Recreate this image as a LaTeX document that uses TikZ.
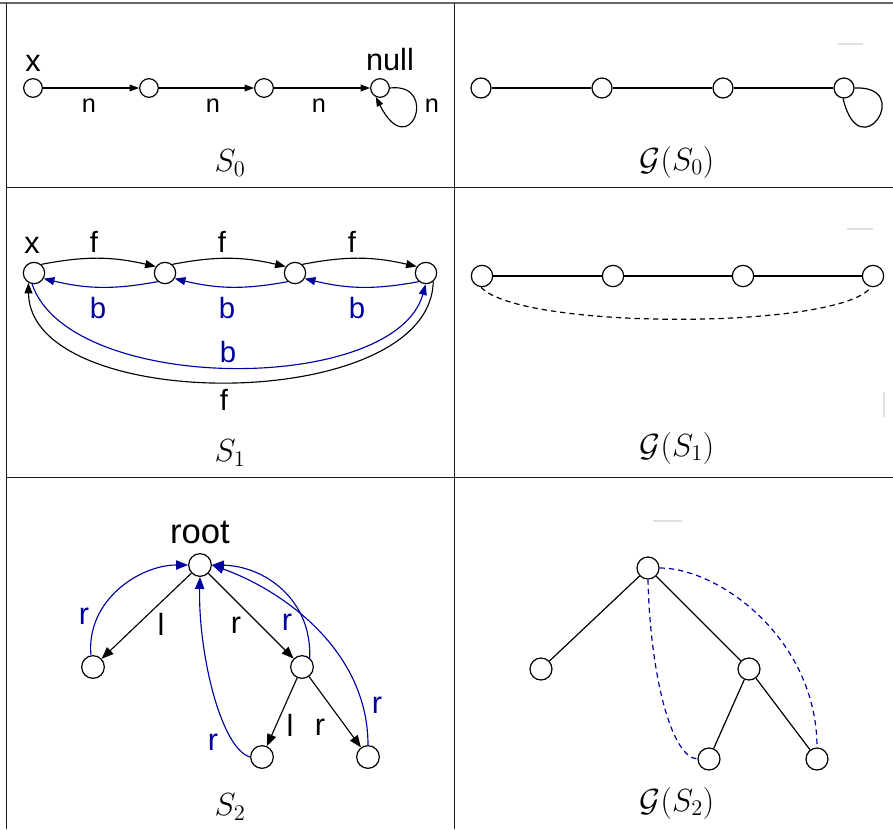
\documentclass[tikz,border=0pt]{standalone}
\usepackage{fix-cm}
\usepackage{fontspec}
\newfontfamily\arial{Liberation Sans}
\usetikzlibrary{arrows.meta}
\definecolor{navy}{RGB}{0,0,160}
\begin{document}
\begin{tikzpicture}[x=0.75pt,y=0.75pt,
  tbl/.style={line width=1.1pt,black!90},
  tbltop/.style={line width=1.5pt,black!60},
  faint/.style={line width=1.2pt,black!12},
  vA/.style={circle,draw,line width=0.9pt,minimum size=14pt,inner sep=0pt},
  vB/.style={circle,draw,line width=0.9pt,minimum size=15pt,inner sep=0pt},
  vC/.style={circle,draw,line width=0.9pt,minimum size=16pt,inner sep=0pt},
  vD/.style={circle,draw,line width=0.9pt,minimum size=17pt,inner sep=0pt},
  vE/.style={circle,draw,line width=0.9pt,minimum size=16.5pt,inner sep=0pt},
  ed/.style={line width=0.9pt},
  arrA/.style={line width=0.85pt,-{Triangle[length=7pt,width=5pt]}},
  arrB/.style={line width=0.85pt,-{Triangle[length=8pt,width=6pt]}},
  arrC/.style={line width=0.85pt,-{Triangle[length=9pt,width=7pt]}},
  lx/.style={inner sep=0pt,font=\arial\fontsize{23}{27}\selectfont},
  ln/.style={inner sep=0pt,font=\arial\fontsize{19}{22}\selectfont},
  lf/.style={inner sep=0pt,font=\arial\fontsize{22}{26}\selectfont},
  lr/.style={inner sep=0pt,font=\arial\fontsize{23}{27}\selectfont},
  lroot/.style={inner sep=0pt,font=\arial\fontsize{26}{30}\selectfont},
  captxt/.style={inner sep=0pt,font=\fontsize{24}{28}\selectfont}
]
\useasboundingbox (0,0) rectangle (893,-829);
% table
\draw[tbltop] (0,-3) -- (893,-3);
\draw[tbl] (6.7,-3) -- (6.7,-829);
\draw[tbl] (454.5,-3) -- (454.5,-829);
\draw[tbl] (6.7,-187.5) -- (893,-187.5);
\draw[tbl] (6.7,-477.5) -- (893,-477.5);
% faint marks
\draw[faint] (838,-44) -- (863,-44);
\draw[faint] (847,-229) -- (873,-229);
\draw[faint] (884,-392) -- (884,-417);
\draw[faint] (653,-521) -- (682,-521);

% ---------- S0 ----------
\node[vA] (a0) at (33,-88) {};
\node[vA] (b0) at (149,-88) {};
\node[vA] (c0) at (264,-88) {};
\node[vA] (d0) at (380,-88) {};
\node[lx] (x0) at (33,-63) {x};
\node[lx] (null0) at (390,-60) {null};
\draw[arrA] (a0) -- (b0);
\draw[arrA] (b0) -- (c0);
\draw[arrA] (c0) -- (d0);
\draw[arrA] (d0.east) .. controls (440,-82) and (410,-165) .. (d0.-115);
\node[ln] (n01) at (89,-106) {n};
\node[ln] (n02) at (213,-106) {n};
\node[ln] (n03) at (319,-106) {n};
\node[ln] (n04) at (432,-106) {n};
\node[captxt] (cS0) at (230,-163) {$S_0$};

% ---------- G(S0) ----------
\node[vB] (ga0) at (481,-88) {};
\node[vB] (gb0) at (602,-88) {};
\node[vB] (gc0) at (723,-88) {};
\node[vB] (gd0) at (844,-88) {};
\draw[ed] (ga0) -- (gb0);
\draw[ed] (gb0) -- (gc0);
\draw[ed] (gc0) -- (gd0);
\draw[ed] (gd0.east) .. controls (915,-85) and (860,-170) .. (gd0.-95);
\node[captxt] (cG0) at (677,-162) {$\mathcal{G}(S_0)$};

% ---------- S1 ----------
\node[vC] (a1) at (34,-273) {};
\node[vC] (b1) at (165,-273) {};
\node[vC] (c1) at (295,-273) {};
\node[vC] (d1) at (426,-273) {};
\node[lx] (x1) at (32,-245) {x};
\draw[arrB] (a1.50) to[bend left=12] (b1.145);
\draw[arrB] (b1.50) to[bend left=12] (c1.145);
\draw[arrB] (c1.50) to[bend left=12] (d1.145);
\draw[arrB,navy] (b1.-130) to[bend left=12] (a1.-30);
\draw[arrB,navy] (c1.-130) to[bend left=12] (b1.-30);
\draw[arrB,navy] (d1.-130) to[bend left=12] (c1.-30);
\draw[arrB,navy] (a1.-100) .. controls (70,-395) and (395,-395) .. (d1.-92);
\draw[arrB] (d1.-50) .. controls (430,-415) and (30,-415) .. (a1.-120);
\node[lf] (f11) at (94,-242) {f};
\node[lf] (f12) at (222,-242) {f};
\node[lf] (f13) at (352,-242) {f};
\node[lf,navy] (b11) at (98,-308) {b};
\node[lf,navy] (b12) at (227,-308) {b};
\node[lf,navy] (b13) at (357,-308) {b};
\node[lf,navy] (b14) at (228,-352) {b};
\node[lf] (f14) at (224,-400) {f};
\node[captxt] (cS1) at (230,-453) {$S_1$};

% ---------- G(S1) ----------
\node[vC] (ga1) at (482,-276) {};
\node[vC] (gb1) at (613,-276) {};
\node[vC] (gc1) at (743,-276) {};
\node[vC] (gd1) at (873,-276) {};
\draw[ed] (ga1) -- (gb1);
\draw[ed] (gb1) -- (gc1);
\draw[ed] (gc1) -- (gd1);
\draw[ed,dashed,dash pattern=on 4pt off 3pt] (ga1.-95) .. controls (520,-330) and (840,-330) .. (gd1.-100);
\node[captxt] (cG1) at (677,-448) {$\mathcal{G}(S_1)$};

% ---------- S2 ----------
\node[vD] (r2) at (200,-565) {};
\node[vD] (l2) at (93,-667) {};
\node[vD] (rr2) at (302,-667) {};
\node[vD] (rl2) at (262,-757) {};
\node[vD] (rrr2) at (368,-757) {};
\node[lroot] (root2) at (200,-532) {root};
\draw[arrC] (r2) -- (l2);
\draw[arrC] (r2) -- (rr2);
\draw[arrC] (rr2) -- (rl2);
\draw[arrC] (rr2) -- (rrr2);
\draw[arrC,navy] (l2.100) .. controls (86,-600) and (140,-565) .. (r2.west);
\draw[arrC,navy] (rr2.50) .. controls (312,-600) and (265,-566) .. (r2.east);
\draw[arrC,navy] (rrr2.north) .. controls (368,-650) and (282,-590) .. (r2.east);
\draw[arrC,navy] (rl2.west) .. controls (220,-748) and (198,-650) .. (r2.south);
\node[lr] (ll2) at (161,-624) {l};
\node[lr] (lr2) at (236,-625) {r};
\node[lr] (lrl2) at (290,-725) {l};
\node[lr] (lrr2) at (320,-727) {r};
\node[lr,navy] (bl2) at (84,-616) {r};
\node[lr,navy] (brr2) at (287,-622) {r};
\node[lr,navy] (brrr2) at (377,-705) {r};
\node[lr,navy] (brl2) at (213,-742) {r};
\node[captxt] (cS2) at (230,-807) {$S_2$};

% ---------- G(S2) ----------
\node[vE] (gr2) at (648,-568) {};
\node[vE] (gl2) at (541,-669) {};
\node[vE] (grr2) at (749,-669) {};
\node[vE] (grl2) at (709,-759) {};
\node[vE] (grrr2) at (817,-759) {};
\draw[ed] (gr2) -- (gl2);
\draw[ed] (gr2) -- (grr2);
\draw[ed] (grr2) -- (grl2);
\draw[ed] (grr2) -- (grrr2);
\draw[ed,navy,dashed,dash pattern=on 4pt off 3pt] (gr2.south) .. controls (650,-670) and (670,-757) .. (grl2.west);
\draw[ed,navy,dashed,dash pattern=on 4pt off 3pt] (gr2.east) .. controls (720,-568) and (817,-640) .. (grrr2.north);
\node[captxt] (cG2) at (677,-803) {$\mathcal{G}(S_2)$};
\end{tikzpicture}
\end{document}
